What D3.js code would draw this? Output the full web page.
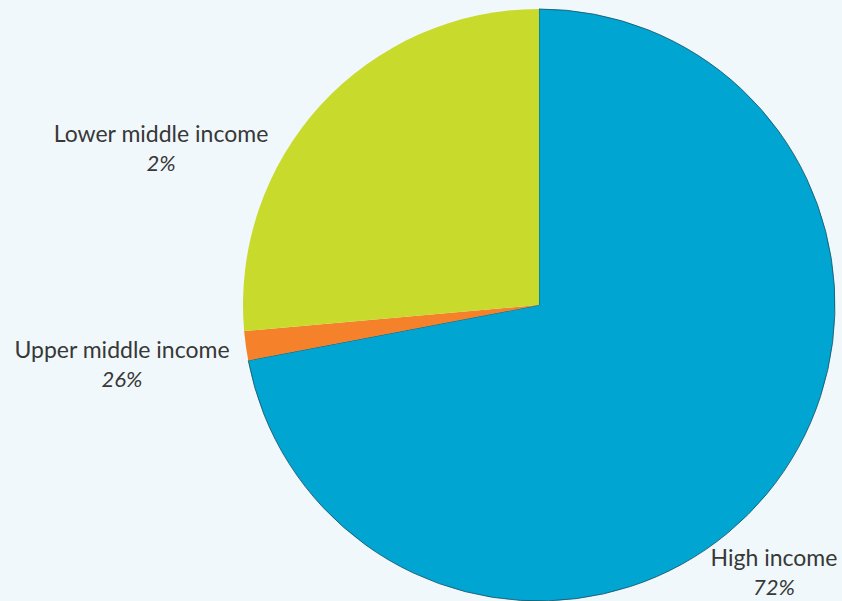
<!DOCTYPE html>
<html>
<head>
<meta charset="utf-8">
<script src="https://cdn.jsdelivr.net/npm/d3@7"></script>
<style>
  html, body { margin: 0; padding: 0; background: #f0f8fb; }
  svg { display: block; }
  text { font-family: Lato, "Open Sans", sans-serif; fill: #383838; }
</style>
</head>
<body>
<div id="chart"></div>
<script>
const categories = [`High income`, `Upper middle income`, `Lower middle income`];
// shares as measured off the slices (labels are rounded)
const values = [72, 1.6, 26.4];
const colors = [`#00a5d2`, `#f5822a`, `#c8da2b`];
// labels as printed in the source (their placement in the picture)
const labelNames = [`High income`, `Upper middle income`, `Lower middle income`];
const labelValues = [`72%`, `26%`, `2%`];

const width = 842;
const height = 601;
const cx = 539;
const cy = 305;
const radius = 296;

const svg = d3
  .select(`#chart`)
  .append(`svg`)
  .attr(`width`, width)
  .attr(`height`, height);

svg.append(`rect`).attr(`width`, width).attr(`height`, height).attr(`fill`, `#f0f8fb`);

const g = svg.append(`g`).attr(`transform`, `translate(${cx}, ${cy})`);

const pie = d3.pie().sort(null);
const arc = d3.arc().innerRadius(0).outerRadius(radius);

g.selectAll(`path`)
  .data(pie(values))
  .enter()
  .append(`path`)
  .attr(`d`, arc)
  .attr(`fill`, (d, i) => colors[i])
  .attr(`stroke`, (d, i) => (i === 0 ? `#1b4f63` : `none`))
  .attr(`stroke-width`, 0.8);

// label anchors, relative to the page
const labelPos = [
  { x: 774, y: 566 },
  { x: 122, y: 358 },
  { x: 161, y: 142 },
];

const labels = svg
  .selectAll(`g.label`)
  .data(categories)
  .enter()
  .append(`g`)
  .attr(`class`, `label`)
  .attr(`transform`, (d, i) => `translate(${labelPos[i].x}, ${labelPos[i].y})`);

labels
  .append(`text`)
  .attr(`text-anchor`, `middle`)
  .style(`font-size`, `23px`)
  .text((d, i) => labelNames[i]);

labels
  .append(`text`)
  .attr(`text-anchor`, `middle`)
  .attr(`dy`, 29)
  .style(`font-size`, `22px`)
  .style(`font-style`, `italic`)
  .text((d, i) => labelValues[i]);
</script>
</body>
</html>
